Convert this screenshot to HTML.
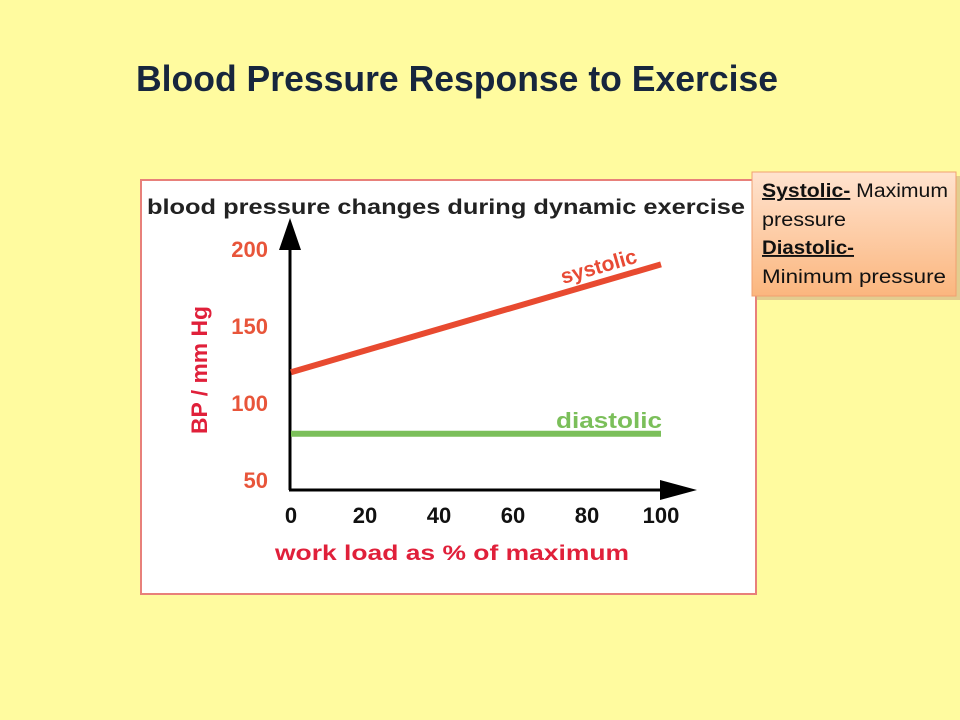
<!DOCTYPE html>
<html><head><meta charset="utf-8"><style>
html,body{margin:0;padding:0;background:#fffb9f;}
svg{display:block;font-family:"Liberation Sans",sans-serif;}
</style></head><body>
<svg width="960" height="720" viewBox="0 0 960 720">
<defs>
<linearGradient id="ng" x1="0" y1="0" x2="0" y2="1">
<stop offset="0" stop-color="#ffe3cf"/><stop offset="1" stop-color="#fbb67e"/>
</linearGradient>
</defs>
<rect width="960" height="720" fill="#fffb9f"/>
<text x="136" y="91" font-size="36" font-weight="bold" fill="#17263d" textLength="642" lengthAdjust="spacingAndGlyphs">Blood Pressure Response to Exercise</text>
<g>
<rect x="141" y="180" width="615" height="414" fill="#ffffff" stroke="#e8807a" stroke-width="2"/>
<text x="147" y="214" font-size="21" font-weight="bold" fill="#222" textLength="598" lengthAdjust="spacingAndGlyphs">blood pressure changes during dynamic exercise</text>
<g id="axes"></g>
<g id="marks"></g>
<text transform="translate(207,370) rotate(-90)" text-anchor="middle" font-size="22" font-weight="bold" fill="#e0203a" textLength="128" lengthAdjust="spacingAndGlyphs">BP / mm Hg</text>
<text x="452" y="560" text-anchor="middle" font-size="21" font-weight="bold" fill="#e0203a" textLength="354" lengthAdjust="spacingAndGlyphs">work load as % of maximum</text>
<text x="563" y="284" font-size="21" font-weight="bold" fill="#e84a35" transform="rotate(-16 563 284)">systolic</text>
<text x="556" y="428" font-size="22" font-weight="bold" fill="#7bbf5a" textLength="106" lengthAdjust="spacingAndGlyphs">diastolic</text>
</g>
<g>
<rect x="756" y="176" width="204" height="124" fill="#c8a080" opacity="0.5"/>
<rect x="752" y="172" width="204" height="124" fill="url(#ng)" stroke="#f0a070" stroke-width="1"/>
<text font-size="19" fill="#111">
<tspan x="762" y="197" textLength="186" lengthAdjust="spacingAndGlyphs"><tspan font-weight="bold" text-decoration="underline">Systolic-</tspan> Maximum</tspan>
<tspan x="762" y="226" textLength="84" lengthAdjust="spacingAndGlyphs">pressure</tspan>
<tspan x="762" y="254" font-weight="bold" text-decoration="underline" textLength="92" lengthAdjust="spacingAndGlyphs">Diastolic-</tspan>
<tspan x="762" y="283" textLength="184" lengthAdjust="spacingAndGlyphs">Minimum pressure</tspan>
</text>
</g>
</svg>
<script>
const xTicks=[0,20,40,60,80,100];
const yTicks=[50,100,150,200];
const xValues=[0,100];
const systolic=[120,190];
const diastolic=[80,80];
const NS="http://www.w3.org/2000/svg";
function xs(v){return 291+v*3.7;}
function ys(v){return 249+(200-v)*1.54;}
function mk(tag,attrs,parent){const e=document.createElementNS(NS,tag);for(const k in attrs)e.setAttribute(k,attrs[k]);parent.appendChild(e);return e;}
const axes=document.getElementById('axes');
const marks=document.getElementById('marks');
let ya=mk('line',{x1:290,y1:490,x2:290,y2:240,stroke:'#000','stroke-width':3},axes);


let yar=mk('polygon',{points:'279,250 290,218 301,250',fill:'#000'},axes);


let xa=mk('line',{x1:289,y1:490,x2:665,y2:490,stroke:'#000','stroke-width':3},axes);


let xar=mk('polygon',{points:'660,480 697,490 660,500',fill:'#000'},axes);


xTicks.forEach(t=>{const e=mk('text',{x:xs(t),y:523,'text-anchor':'middle','font-size':22,'font-weight':'bold',fill:'#111'},axes);e.textContent=t;

});
yTicks.forEach(t=>{const e=mk('text',{x:268,y:ys(t)+8,'text-anchor':'end','font-size':22,'font-weight':'bold',fill:'#e8553a'},axes);e.textContent=t;

});
function series(vals,color,name){const pts=xValues.map((x,i)=>xs(x)+','+ys(vals[i])).join(' ');
const l=mk('polyline',{points:pts,fill:'none',stroke:color,'stroke-width':6},marks);

}
series(systolic,'#e84a30','systolic-line');
series(diastolic,'#7bbf5a','diastolic-line');
</script>
</body></html>
